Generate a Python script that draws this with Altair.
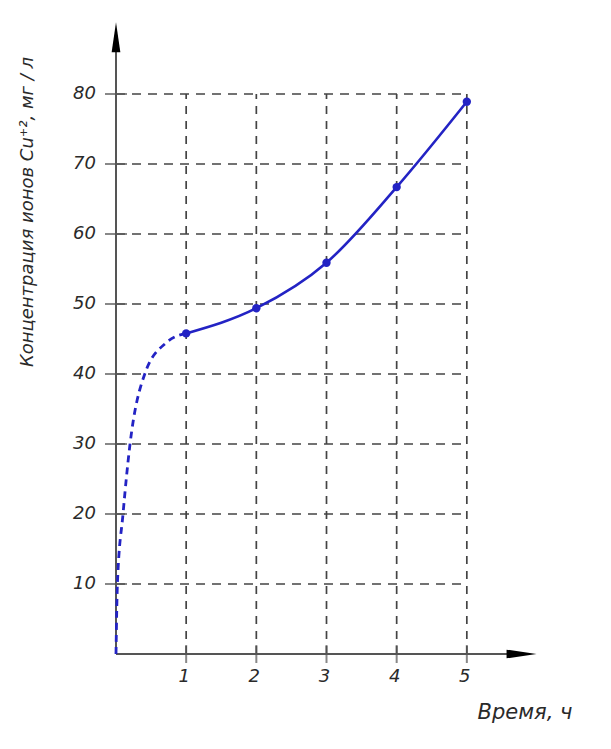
import altair as alt
import pandas as pd

# measured data (hours, mg/l)
hours = [1, 2, 3, 4, 5]
conc = [45.8, 49.4, 55.9, 66.7, 78.9]

# extrapolated dashed part
dash_x = [0.0, 0.02, 0.1, 0.2, 0.41, 0.72, 1.0]
dash_y = [0.0, 10.0, 20.0, 30.0, 40.0, 44.5, 45.8]

x_ticks = [1, 2, 3, 4, 5]
y_ticks = [10, 20, 30, 40, 50, 60, 70, 80]

x_title = "Время, ч"
y_title = "Концентрация ионов Cu⁺², мг / л"

BLUE = "#2323c4"
GRAY = "#555555"
TXT = "#2a2a2a"
FONT = "DejaVu Sans"

XMAX, YMAX = 6, 90
xs = alt.Scale(domain=[0, XMAX], nice=False, zero=False)
ys = alt.Scale(domain=[0, YMAX], nice=False, zero=False)

df_main = pd.DataFrame({"x": hours, "y": conc})
df_dash = pd.DataFrame({"x": dash_x, "y": dash_y})
df_xt = pd.DataFrame({"v": x_ticks, "lab": [str(v) for v in x_ticks],
                      "zero": 0, "top": max(y_ticks)})
df_yt = pd.DataFrame({"v": y_ticks, "lab": [str(v) for v in y_ticks],
                      "zero": 0, "right": max(x_ticks)})
df_axes = pd.DataFrame({"zero": [0], "xend": [5.8], "yend": [88.0],
                        "xarr": [5.78], "yarr": [88.1]})

def X(f):
    return alt.X(f, type="quantitative", scale=xs, axis=None)

def Y(f):
    return alt.Y(f, type="quantitative", scale=ys, axis=None)

# grid
vgrid = alt.Chart(df_xt).mark_rule(color="#444444", strokeWidth=1.7, strokeDash=[8, 7]).encode(
    x=X("v"), y=Y("zero"), y2="top:Q"
)
hgrid = alt.Chart(df_yt).mark_rule(color="#444444", strokeWidth=1.7, strokeDash=[9, 7]).encode(
    y=Y("v"), x=X("zero"), x2="right:Q"
)

# axes lines
yaxis = alt.Chart(df_axes).mark_rule(color=GRAY, strokeWidth=2).encode(
    x=X("zero"), y=Y("zero"), y2="yend:Q"
)
xaxis = alt.Chart(df_axes).mark_rule(color=GRAY, strokeWidth=2).encode(
    y=Y("zero"), x=X("zero"), x2="xend:Q"
)
yarrow = alt.Chart(df_axes).mark_point(
    shape="M0,-1 L0.29,1 L-0.29,1 Z", size=900, filled=True, color="black", opacity=1
).encode(x=X("zero"), y=Y("yarr"))
xarrow = alt.Chart(df_axes).mark_point(
    shape="M1,0 L-1,0.29 L-1,-0.29 Z", size=900, filled=True, color="black", opacity=1
).encode(x=X("xarr"), y=Y("zero"))

# ticks crossing axes
ytickm = alt.Chart(df_yt).mark_tick(orient="horizontal", size=22, thickness=2, color=GRAY).encode(
    y=Y("v"), x=X("zero")
)
xtickm = alt.Chart(df_xt).mark_tick(orient="vertical", size=18, thickness=2, color=GRAY).encode(
    x=X("v"), y=Y("zero")
)

# tick labels
ylab = alt.Chart(df_yt).mark_text(
    align="right", baseline="middle", dx=-20, font=FONT, fontStyle="italic", fontSize=18, color=TXT
).encode(y=Y("v"), x=X("zero"), text="lab:N")
xlab = alt.Chart(df_xt).mark_text(
    align="center", baseline="middle", dy=23, dx=-2, font=FONT, fontStyle="italic", fontSize=18, color=TXT
).encode(x=X("v"), y=Y("zero"), text="lab:N")

# titles
ytitle = alt.Chart(pd.DataFrame({"t": [y_title]})).mark_text(
    angle=270, align="center", baseline="middle", font=FONT, fontStyle="italic", fontSize=18, color=TXT
).encode(x=alt.value(-88), y=alt.value(188), text="t:N")
xtitle = alt.Chart(pd.DataFrame({"t": [x_title]})).mark_text(
    align="center", baseline="middle", font=FONT, fontStyle="italic", fontSize=21, color=TXT
).encode(x=alt.value(409), y=alt.value(689), text="t:N")

# data
dash_line = alt.Chart(df_dash).mark_line(
    color=BLUE, strokeWidth=2.8, strokeDash=[7, 5], interpolate="monotone"
).encode(x=X("x"), y=Y("y"), order="x:Q")
main_line = alt.Chart(df_main).mark_line(
    color=BLUE, strokeWidth=2.6, interpolate="monotone"
).encode(x=X("x"), y=Y("y"))
pts = alt.Chart(df_main).mark_point(
    color=BLUE, filled=True, size=70, opacity=1
).encode(x=X("x"), y=Y("y"))

chart = alt.layer(
    vgrid, hgrid, yaxis, xaxis, yarrow, xarrow, ytickm, xtickm, ylab, xlab,
    ytitle, xtitle, dash_line, main_line, pts
).properties(
    width=421, height=630,
    autosize="none",
    padding={"left": 108, "top": 16, "right": 60, "bottom": 80},
    background="white",
).configure_view(stroke=None)

chart.save("out.html", embed_options={"renderer": "svg", "actions": False})
